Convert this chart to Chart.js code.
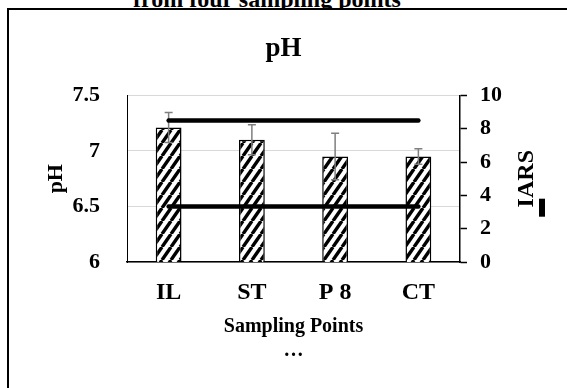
<!DOCTYPE html>
<html>
<head>
<meta charset="utf-8">
<script src="https://cdn.jsdelivr.net/npm/chart.js@4.4.1/dist/chart.umd.min.js"></script>
<style>
html, body { margin: 0; padding: 0; background: #fff; overflow: hidden; }
#top { position: absolute; left: 0; top: -11px; width: 534px; text-align: center; font: bold 24px/20px "Liberation Serif", serif; }
#frame { position: absolute; left: 7px; top: 8px; width: 620px; height: 420px; border-left: 2px solid #000; border-top: 2px solid #000; background: #fff; }
#wrap { position: absolute; left: 0; top: 0; width: 567px; height: 388px; }
</style>
</head>
<body>
<div id="top">from four sampling points</div>
<div id="frame"></div>
<div id="wrap"><canvas id="chart" width="567" height="388"></canvas></div>
<script>
// data
const categories = ['IL', 'ST', 'P 8', 'CT'];
const phMean = [7.21, 7.10, 6.95, 6.95];
const phErr = [0.135, 0.135, 0.21, 0.07];
const phLimit = [6.5, 6.5, 6.5, 6.5];
const iarsLine = [8.5, 8.5, 8.5, 8.5];
const phTicks = [6, 6.5, 7, 7.5];
const iarsTicks = [0, 2, 4, 6, 8, 10];

const serif = '"Liberation Serif", "Times New Roman", serif';

// diagonal hatch like the excel pattern fill
function makeHatch() {
    const w = 9, h = 13;
    const c = document.createElement('canvas');
    c.width = w; c.height = h;
    const g = c.getContext('2d');
    g.fillStyle = '#fff';
    g.fillRect(0, 0, w, h);
    g.strokeStyle = '#000';
    g.lineWidth = 3.4;
    [-w, 0, w].forEach(dx => {
        g.beginPath();
        g.moveTo(dx, h);
        g.lineTo(dx + w, 0);
        g.stroke();
    });
    return g.createPattern(c, 'repeat');
}

// error bars drawn right after the bars, below the lines
const errorBars = {
    id: 'errorBars',
    afterDatasetDraw(chart, args) {
        if (args.index !== 0) return;
        const y = chart.scales.y;
        const ctx = chart.ctx;
        ctx.save();
        ctx.strokeStyle = '#7f7f7f';
        ctx.lineWidth = 1.5;
        args.meta.data.forEach((bar, i) => {
            const top = y.getPixelForValue(phMean[i] + phErr[i]);
            const bot = y.getPixelForValue(phMean[i] - phErr[i]);
            ctx.beginPath();
            ctx.moveTo(bar.x, top); ctx.lineTo(bar.x, bot);
            ctx.moveTo(bar.x - 4, top); ctx.lineTo(bar.x + 4, top);
            ctx.moveTo(bar.x - 4, bot); ctx.lineTo(bar.x + 4, bot);
            ctx.stroke();
        });
        ctx.restore();
    }
};

// right axis title reads bottom to top, chart.js would turn it the other way
const rightTitle = {
    id: 'rightTitle',
    afterDraw(chart) {
        const s = chart.scales.y1;
        const ctx = chart.ctx;
        const cx = s.right - 30;
        const cy = (s.top + s.bottom) / 2;
        ctx.save();
        ctx.fillStyle = '#000';
        ctx.translate(cx, cy);
        ctx.rotate(-Math.PI / 2);
        ctx.font = 'bold 24px ' + serif;
        ctx.textAlign = 'center';
        ctx.textBaseline = 'middle';
        ctx.fillText('IARS', 0, 0);
        ctx.restore();
        ctx.fillStyle = '#000';
        ctx.fillRect(s.right - 18, cy + 20, 6, 18);
    }
};

const tickFont = { family: serif, size: 22, weight: 'bold' };

new Chart(document.getElementById('chart'), {
    type: 'bar',
    data: {
        labels: categories,
        datasets: [
            {
                label: 'pH',
                data: phMean,
                yAxisID: 'y',
                backgroundColor: makeHatch(),
                borderColor: '#000',
                borderWidth: 1.5,
                categoryPercentage: 1,
                barPercentage: 0.31,
                order: 2
            },
            {
                type: 'line',
                label: 'IARS',
                data: iarsLine,
                yAxisID: 'y1',
                borderColor: '#000',
                borderWidth: 4.5,
                borderCapStyle: 'round',
                pointRadius: 0,
                fill: false,
                order: 1
            },
            {
                type: 'line',
                label: 'pH limit',
                data: phLimit,
                yAxisID: 'y',
                borderColor: '#000',
                borderWidth: 4.5,
                borderCapStyle: 'round',
                pointRadius: 0,
                fill: false,
                order: 1
            }
        ]
    },
    options: {
        responsive: false,
        animation: false,
        events: [],
        layout: { padding: { left: 10, right: 10, top: 0, bottom: 0 } },
        plugins: {
            legend: { display: false },
            tooltip: { enabled: false },
            title: {
                display: true,
                text: 'pH',
                color: '#000',
                font: { family: serif, size: 27, weight: 'bold' },
                padding: { top: 33, bottom: 30 }
            }
        },
        scales: {
            x: {
                grid: { display: false, drawTicks: false },
                border: { color: '#000', width: 1.5 },
                ticks: { color: '#000', padding: 16, font: { family: serif, size: 24, weight: 'bold' } },
                title: {
                    display: true,
                    text: ['Sampling Points', '…'],
                    color: '#000',
                    font: { family: serif, size: 20, weight: 'bold' },
                    padding: { top: 0, bottom: 25 }
                },
                afterFit: s => { s.height = 126; }
            },
            y: {
                position: 'left',
                min: 6,
                max: 7.5,
                afterBuildTicks: s => { s.ticks = phTicks.map(v => ({ value: v })); },
                grid: { color: '#d9d9d9', lineWidth: 1, drawTicks: false },
                border: { color: '#000', width: 1 },
                ticks: { color: '#000', padding: 27, font: tickFont, callback: v => String(v) },
                title: {
                    display: true,
                    text: 'pH',
                    color: '#000',
                    font: { family: serif, size: 22, weight: 'bold' },
                    padding: { top: 33, bottom: 0 }
                },
                afterFit: s => { s.width = 117; }
            },
            y1: {
                position: 'right',
                min: 0,
                max: 10,
                afterBuildTicks: s => { s.ticks = iarsTicks.map(v => ({ value: v })); },
                grid: { drawOnChartArea: false, drawTicks: true, tickLength: 7, tickColor: '#000', tickWidth: 1.5 },
                border: { color: '#000', width: 1.5 },
                ticks: { color: '#000', padding: 13, font: tickFont, callback: v => String(v) },
                afterFit: s => { s.width = 97; }
            }
        }
    },
    plugins: [errorBars, rightTitle]
});
</script>
</body>
</html>
